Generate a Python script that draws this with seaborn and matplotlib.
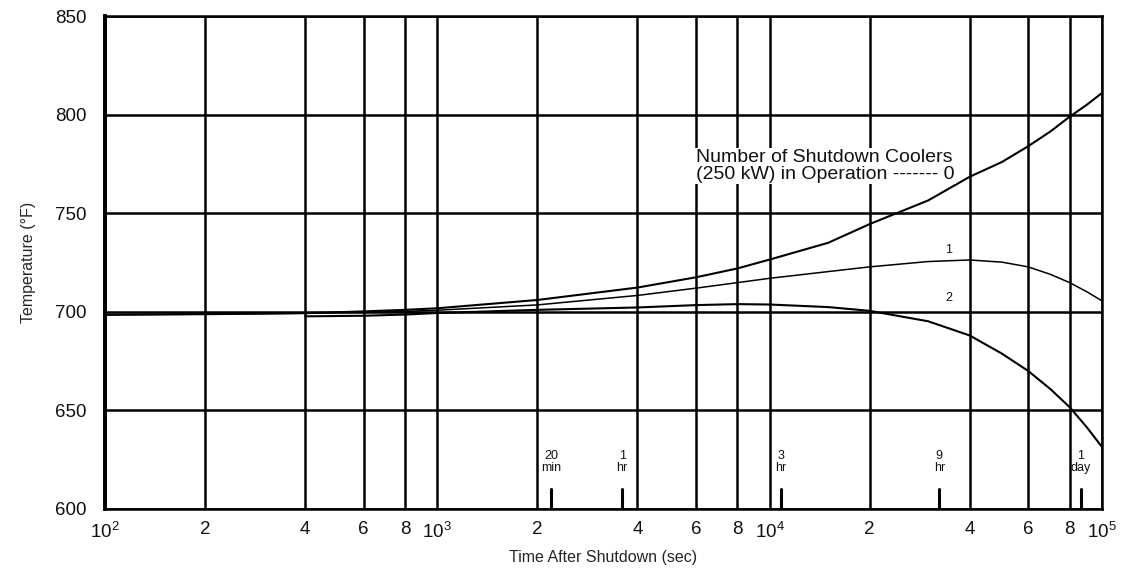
import matplotlib

matplotlib.use("Agg")

import matplotlib.pyplot as plt
import pandas as pd
import seaborn as sns
from matplotlib.ticker import NullLocator

# curve 0 / 1: no cooler and one cooler (both start at 100 s)
TIME_01 = [100, 200, 400, 600, 800, 1e3, 2e3, 4e3, 6e3, 8e3, 1e4, 1.5e4, 2e4,
           3e4, 4e4, 5e4, 6e4, 7e4, 8e4, 9e4, 1e5]
TEMP_0 = [698.5, 698.8, 699.3, 700.2, 701.0, 701.8, 706.0, 712.3, 717.5, 722.0,
          726.5, 735.0, 744.5, 756.5, 768.5, 776.0, 784.0, 791.5, 799.0, 805.0, 811.0]
TEMP_1 = [698.5, 698.8, 699.3, 699.8, 700.2, 700.8, 703.5, 708.3, 712.0, 714.8,
          717.0, 720.4, 722.8, 725.5, 726.3, 725.2, 722.8, 719.0, 714.8, 710.2, 705.6]
# curve 2: two coolers (starts at 400 s)
TIME_2 = [400, 600, 800, 1e3, 2e3, 4e3, 6e3, 8e3, 1e4, 1.5e4, 2e4, 3e4, 4e4,
          5e4, 6e4, 7e4, 8e4, 9e4, 1e5]
TEMP_2 = [697.7, 698.0, 698.6, 699.4, 701.0, 702.2, 703.4, 703.9, 703.7, 702.4,
          700.5, 695.2, 688.0, 678.8, 670.0, 660.8, 651.6, 641.5, 631.5]

X_TICKS = [100, 200, 400, 600, 800, 1e3, 2e3, 4e3, 6e3, 8e3, 1e4, 2e4, 4e4, 6e4, 8e4, 1e5]
X_TICK_LABELS = [r"$10^{2}$", "2", "4", "6", "8", r"$10^{3}$", "2", "4", "6", "8",
                 r"$10^{4}$", "2", "4", "6", "8", r"$10^{5}$"]
Y_TICKS = [600, 650, 700, 750, 800, 850]

MARK_TIMES = [2200, 3600, 10800, 32400, 86400]
MARK_LABELS = ["20\nmin", "1\nhr", "3\nhr", "9\nhr", "1\nday"]

sns.set_theme(style="white")
plt.rcParams.update({
    "font.family": ["Liberation Sans", "DejaVu Sans"],
    "mathtext.fontset": "custom",
    "mathtext.rm": "Liberation Sans",
    "mathtext.it": "Liberation Sans",
    "text.color": "#111111",
})

df = pd.concat([
    pd.DataFrame({"time": TIME_01, "temp": TEMP_0, "coolers": "0"}),
    pd.DataFrame({"time": TIME_01, "temp": TEMP_1, "coolers": "1"}),
    pd.DataFrame({"time": TIME_2, "temp": TEMP_2, "coolers": "2"}),
], ignore_index=True)

fig = plt.figure(figsize=(11.29, 5.77), dpi=100)
ax = fig.add_axes([0.093, 0.118, 0.883, 0.854])

sns.lineplot(
    data=df, x="time", y="temp", hue="coolers", size="coolers",
    palette={"0": "black", "1": "black", "2": "black"},
    sizes={"0": 1.5, "1": 1.1, "2": 1.5},
    estimator=None, sort=False, legend=False, ax=ax, zorder=4,
)

ax.set_xscale("log")
ax.set_xlim(100, 1e5)
ax.set_ylim(600, 850)
ax.set_xticks(X_TICKS)
ax.set_xticklabels(X_TICK_LABELS)
ax.xaxis.set_minor_locator(NullLocator())
ax.set_yticks(Y_TICKS)
ax.set_yticklabels([str(v) for v in Y_TICKS])
ax.get_yticklabels()[4].set_color("#9a9a9a")
ax.grid(True, which="major", color="black", linewidth=1.8)
ax.set_axisbelow(True)
ax.tick_params(axis="both", length=0, labelsize=13.5, colors="#111111")
ax.tick_params(axis="x", pad=9)
ax.tick_params(axis="y", pad=13)

for side in ["top", "right", "bottom", "left"]:
    ax.spines[side].set_color("black")
    ax.spines[side].set_linewidth(1.8)
ax.spines["left"].set_linewidth(2.8)

ax.set_xlabel("Time After Shutdown (sec)", fontsize=11.5, labelpad=6)
ax.set_ylabel("Temperature (°F)", fontsize=11.5, labelpad=14)

# time markers along the bottom axis
for t, lab in zip(MARK_TIMES, MARK_LABELS):
    ax.axvline(t, ymin=0, ymax=0.04, color="black", linewidth=2.2, zorder=5)
    ax.text(t, 0.12, lab, transform=ax.get_xaxis_transform(), ha="center",
            va="top", fontsize=9, linespacing=1.0)

ax.text(6000, 774, "Number of Shutdown Coolers\n(250 kW) in Operation ------- 0",
        fontsize=14, ha="left", va="center", linespacing=1.0, zorder=6,
        bbox=dict(facecolor="white", edgecolor="none", pad=1.0))
ax.text(3.45e4, 731.5, "1", fontsize=9, ha="center", va="center")
ax.text(3.45e4, 707.0, "2", fontsize=9, ha="center", va="center")

fig.savefig("out.png", dpi=100)
